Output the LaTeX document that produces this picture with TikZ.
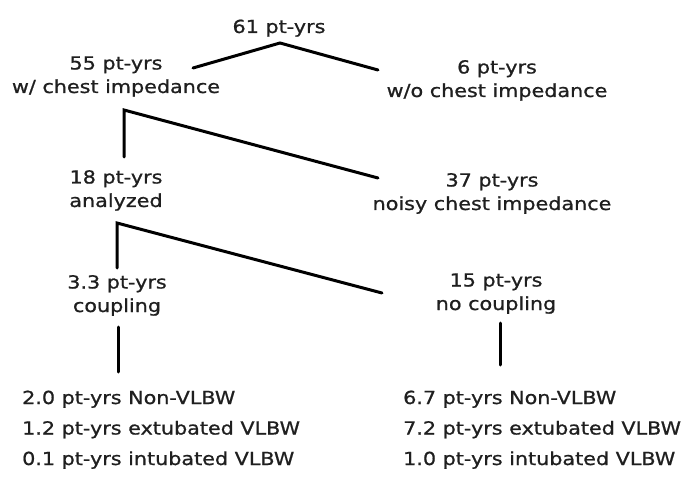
\documentclass[tikz,border=0pt]{standalone}
\usepackage{fontspec}
\setmainfont{DejaVu Sans}[FakeStretch=1.15,FakeBold=0.9]
\usetikzlibrary{positioning}

\begin{document}
\begin{tikzpicture}[x=1pt,y=-1pt,
    txt/.style={inner sep=0pt,text=black!88,align=center,
                font=\fontsize{18}{23.5}\selectfont},
    lst/.style={inner sep=0pt,text=black!88,align=left,
                font=\fontsize{18}{30.5}\selectfont},
    edge/.style={line width=3pt,line cap=round,line join=miter}]
  \useasboundingbox (0,0) rectangle (700,478);
  \node[txt,anchor=base] (top) at (279,33) {61 pt-yrs};
  \node[txt,anchor=base] (withci) at (116,93) {55 pt-yrs\\w/ chest impedance};
  \node[txt,anchor=base] (noci) at (497,97) {6 pt-yrs\\w/o chest impedance};
  \node[txt,anchor=base] (analyzed) at (116,207) {18 pt-yrs\\analyzed};
  \node[txt,anchor=base] (noisy) at (492,210) {37 pt-yrs\\noisy chest impedance};
  \node[txt,anchor=base] (coupl) at (117,312) {3.3 pt-yrs\\coupling};
  \node[txt,anchor=base] (nocoupl) at (496,310) {15 pt-yrs\\no coupling};
  \node[lst,anchor=base west] (couplist) at (22,465)
       {2.0 pt-yrs Non-VLBW\\1.2 pt-yrs extubated VLBW\\0.1 pt-yrs intubated VLBW};
  \node[lst,anchor=base west] (nocouplist) at (403,465)
       {6.7 pt-yrs Non-VLBW\\7.2 pt-yrs extubated VLBW\\1.0 pt-yrs intubated VLBW};
  \coordinate (topsplit) at (280,43);
  \coordinate (withciend) at (193,68);
  \coordinate (nociend) at (378,70);
  \coordinate (cisplit) at (124,110);
  \coordinate (analyzedend) at (124,157);
  \coordinate (noisyend) at (378,178);
  \coordinate (couplsplit) at (117,223);
  \coordinate (couplend) at (117,268);
  \coordinate (nocouplend) at (382,293);
  \coordinate (couplfoot) at (118,327);
  \coordinate (couplistend) at (118,372);
  \coordinate (nocouplfoot) at (500,323);
  \coordinate (nocouplistend) at (500,365);
  \draw[edge] (withciend) -- (topsplit) -- (nociend);
  \draw[edge] (analyzedend) -- (cisplit) -- (noisyend);
  \draw[edge] (couplend) -- (couplsplit) -- (nocouplend);
  \draw[edge] (couplfoot) -- (couplistend);
  \draw[edge] (nocouplfoot) -- (nocouplistend);
\end{tikzpicture}
\end{document}
